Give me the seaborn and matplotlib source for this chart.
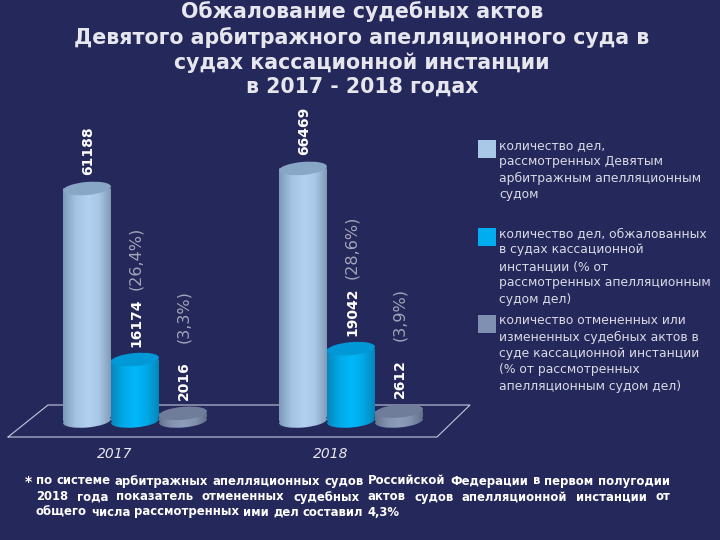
import numpy as np
import pandas as pd
import matplotlib
matplotlib.use('Agg')
import matplotlib.pyplot as plt
import seaborn as sns
from matplotlib.colors import LinearSegmentedColormap
from matplotlib.lines import Line2D
from matplotlib.patches import Ellipse, Rectangle
from matplotlib.path import Path
from matplotlib.transforms import Affine2D, IdentityTransform

# Data
years = ['2017', '2018']
considered = [61188, 66469]
appealed = [16174, 19042]
overturned = [2016, 2612]
appealed_pct = ['(26,4%)', '(28,6%)']
overturned_pct = ['(3,3%)', '(3,9%)']

title_lines = 'Обжалование судебных актов\nДевятого арбитражного апелляционного суда в\nсудах кассационной инстанции\nв 2017 - 2018 годах'
legend_texts = [
    'количество дел,\nрассмотренных Девятым\nарбитражным апелляционным\nсудом',
    'количество дел, обжалованных\nв судах кассационной\nинстанции (% от\nрассмотренных апелляционным\nсудом дел)',
    'количество отмененных или\nизмененных судебных актов в\nсуде кассационной инстанции\n(% от рассмотренных\nапелляционным судом дел)',
]
note_lines = [
    'по системе арбитражных апелляционных судов Российской Федерации в первом полугодии',
    '2018 года показатель отмененных судебных актов судов апелляционной инстанции от',
    'общего числа рассмотренных ими дел составил 4,3%',
]

BG = '#25285A'
W, H = 720, 540
series_names = ['considered', 'appealed', 'overturned']
swatch_colors = ['#A9C8E8', '#00AEEF', '#8090B0']
cap_colors = ['#88A6C6', '#0098D6', '#6F7D9A']
side_colors = [
    ['#7D9ABA', '#A3C2E2', '#B2D0F0', '#A8C6E6', '#7F98B4'],
    ['#0A86BC', '#00AAE8', '#00B8FA', '#00A8E6', '#0683B6'],
    ['#66748F', '#8493B0', '#8E9DBB', '#8090AD', '#5F6C86'],
]

df = pd.DataFrame({'year': years * 3,
                   'series': np.repeat(series_names, 2),
                   'value': considered + appealed + overturned})

sns.set_theme(style='white')
plt.rcParams['font.family'] = ['DejaVu Sans']

fig = plt.figure(figsize=(W / 100, H / 100), dpi=100, facecolor=BG)
# axes placed so that one category is 216 px and the baseline sits at 421 px
ax = fig.add_axes([27 / W, (H - 421) / H, 432 / W, 323 / H])
ax.patch.set_alpha(0)
sns.barplot(data=df, x='year', y='value', hue='series', hue_order=series_names,
            palette=swatch_colors, width=0.667, gap=0, legend=False, ax=ax)
ax.set_xlim(-0.5, 1.5)
ax.set_ylim(0, 85000)
ax.axis('off')

# floor of the 3D chart, in pixels
floor = Line2D(np.array([8, 48, 470, 437, 8]) / W, 1 - np.array([437, 405, 405, 437, 437]) / H,
               color='#C5C8DC', lw=0.8, transform=fig.transFigure, zorder=-1)
fig.add_artist(floor)

fig.canvas.draw()
to_px = ax.transData.transform
tilt = 5
cap_h = 13


def cap_path(cx, cy, w, h):
    return Path.unit_circle().transformed(
        Affine2D().scale(w / 2, h / 2).rotate_deg(tilt).translate(cx, cy))


for k, cont in enumerate(ax.containers):
    cmap = LinearSegmentedColormap.from_list('side', side_colors[k])
    for bar in cont:
        (x0, y0), (x1, y1) = to_px([(bar.get_x(), 0), (bar.get_x() + bar.get_width(), bar.get_height())])
        cx = (x0 + x1) / 2
        w = x1 - x0
        bar.set_visible(False)
        clip = Path.make_compound_path(
            Path([(x0, y0), (x1, y0 + 4), (x1, y1), (x0, y1), (x0, y0)], closed=True),
            cap_path(cx, y0, w, cap_h))
        im = ax.imshow(np.linspace(0, 1, 64)[None, :], cmap=cmap, aspect='auto', zorder=2,
                       extent=(bar.get_x(), bar.get_x() + bar.get_width(), -3000, bar.get_height() + 3000))
        # the bottom of the cylinder hangs below the axes
        im.set_clip_box(fig.bbox)
        im.set_clip_path(clip, IdentityTransform())
        top = Ellipse((cx, y1), w, cap_h, angle=tilt, facecolor=cap_colors[k], edgecolor='none',
                      transform=IdentityTransform(), zorder=3)
        ax.add_patch(top)
ax.set_xlim(-0.5, 1.5)
ax.set_ylim(0, 85000)
ax.set_aspect('auto')

# value labels
for k, cont in enumerate(ax.containers):
    for i, bar in enumerate(cont):
        xy = (bar.get_x() + bar.get_width() / 2, bar.get_height())
        ax.annotate(str(df.loc[df['series'] == series_names[k], 'value'].iloc[i]), xy,
                    xytext=(1, 13), textcoords='offset pixels', rotation=90, ha='center', va='bottom',
                    color='white', fontsize=10, fontweight='bold', annotation_clip=False, zorder=5)
for k, labels in ((1, appealed_pct), (2, overturned_pct)):
    for bar, txt in zip(ax.containers[k], labels):
        xy = (bar.get_x() + bar.get_width() / 2, bar.get_height())
        ax.annotate(txt, xy, xytext=(1, 70), textcoords='offset pixels', rotation=90, ha='center',
                    va='bottom', color='#A2A5B8', fontsize=11.5, annotation_clip=False, zorder=5)

# year labels sit left of the group centres
for i, year in enumerate(years):
    ax.annotate(year, (i, 0), xytext=(-20, -33), textcoords='offset pixels', ha='center', va='center',
                color='#E8E8F0', fontsize=10, fontstyle='italic', annotation_clip=False)

fig.text(362 / W, 1 - 49 / H, title_lines, ha='center', va='center', color='#E6E6EE',
         fontsize=14.8, fontweight='bold', linespacing=1.28)

# legend
for text, color, y_top in zip(legend_texts, swatch_colors, [140, 228, 315]):
    fig.add_artist(Rectangle((478 / W, 1 - (y_top + 18) / H), 18 / W, 18 / H, facecolor=color,
                             edgecolor='none', transform=fig.transFigure))
    fig.text(499 / W, 1 - (y_top - 1) / H, text, ha='left', va='top', color='#D8DAE6',
             fontsize=8.9, linespacing=1.34)

# footnote, first two lines justified
renderer = fig.canvas.get_renderer()
fig.text(25 / W, 1 - 482 / H, '*', color='white', fontsize=10, fontweight='bold', ha='left', va='center')
for n, (line, y) in enumerate(zip(note_lines, [481, 497, 512])):
    words = line.split(' ')
    items = [fig.text(0, 1 - y / H, word, color='white', fontsize=8.4, fontweight='bold',
                      ha='left', va='center') for word in words]
    widths = [t.get_window_extent(renderer).width for t in items]
    space = (634 - sum(widths)) / (len(words) - 1) if n < 2 else 4.0
    x = 36
    for t, width in zip(items, widths):
        t.set_x(x / W)
        x += width + space

fig.savefig('out.png', dpi=100, facecolor=BG)
